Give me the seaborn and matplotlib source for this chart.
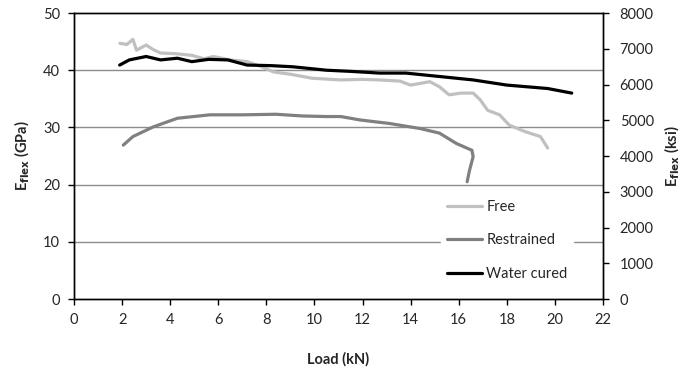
import matplotlib
matplotlib.use("Agg")
import matplotlib.pyplot as plt
import seaborn as sns
import pandas as pd

sns.set_theme(style="white")
plt.rcParams['font.family'] = ['Lato', 'DejaVu Sans']

# Data
free_load = [1.91, 2.2, 2.45, 2.6, 3.0, 3.3, 3.6, 4.2, 4.9, 5.4, 5.8, 6.5, 7.2, 7.8, 8.3, 9.0, 9.9, 11.1, 12.0, 12.7, 13.55, 14.0, 14.8, 15.2, 15.6, 16.1, 16.6, 16.9, 17.2, 17.7, 18.1, 18.8, 19.4, 19.7]
free_E = [44.7, 44.5, 45.4, 43.5, 44.4, 43.6, 43.0, 42.9, 42.6, 42.0, 42.4, 41.8, 41.5, 40.6, 39.7, 39.3, 38.6, 38.3, 38.4, 38.3, 38.1, 37.4, 38.0, 37.1, 35.7, 36.0, 36.0, 34.8, 33.0, 32.2, 30.4, 29.2, 28.4, 26.4]

restrained_load = [2.05, 2.45, 3.3, 4.3, 5.65, 7.0, 8.4, 9.5, 10.5, 11.1, 11.9, 13.1, 14.4, 15.2, 15.9, 16.55, 16.6, 16.45, 16.35]
restrained_E = [26.9, 28.4, 30.1, 31.6, 32.2, 32.2, 32.3, 32.0, 31.9, 31.9, 31.3, 30.7, 29.8, 29.0, 27.2, 26.0, 24.9, 22.5, 20.5]

water_load = [1.9, 2.3, 3.0, 3.6, 4.3, 4.9, 5.6, 6.4, 7.2, 8.2, 9.1, 10.5, 11.5, 12.7, 13.8, 15.2, 16.6, 18.0, 19.7, 20.7]
water_E = [40.9, 41.8, 42.4, 41.8, 42.1, 41.5, 41.9, 41.8, 40.9, 40.8, 40.6, 40.0, 39.8, 39.5, 39.5, 38.9, 38.3, 37.4, 36.8, 36.0]

series_names = ["Free", "Restrained", "Water cured"]
colors = ["#c0c0c0", "#808080", "#000000"]

x_ticks = list(range(0, 23, 2))
y_ticks = list(range(0, 51, 10))
y2_ticks = list(range(0, 8001, 1000))

rows = []
for name, xs, ys in zip(series_names, [free_load, restrained_load, water_load],
                        [free_E, restrained_E, water_E]):
    for i, (x, y) in enumerate(zip(xs, ys)):
        rows.append({"Load": x, "E": y, "Series": name, "order": i})
df = pd.DataFrame(rows)

fig = plt.figure(figsize=(6.87, 3.74), dpi=100)
ax = fig.add_axes([0.1077, 0.2005, 0.77, 0.7647])

for y in y_ticks[1:-1]:
    ax.axhline(y, color="#8c8c8c", lw=1.0, zorder=0)

sns.lineplot(data=df, x="Load", y="E", hue="Series", palette=colors,
             hue_order=series_names, sort=False, estimator=None,
             linewidth=2.3, ax=ax, legend=True)

ax.set_xlim(0, 22)
ax.set_ylim(0, 50)
ax.set_xticks(x_ticks)
ax.set_yticks(y_ticks)
ax.tick_params(axis="both", direction="out", length=4, width=1, color="black",
               labelsize=10.5, pad=6)
ax.tick_params(axis="x", bottom=True)
ax.tick_params(axis="y", left=True)
for s in ax.spines.values():
    s.set_color("black")
    s.set_linewidth(1.0)
ax.set_xlabel("Load (kN)", fontsize=10.5, fontweight="bold", labelpad=18)
ax.set_ylabel(r"E$_{\mathbf{flex}}$ (GPa)", fontsize=10.5, fontweight="bold", labelpad=8)

ax2 = ax.twinx()
ax2.set_ylim(0, 8000)
ax2.set_yticks(y2_ticks)
ax2.tick_params(axis="y", direction="out", length=4, width=1, color="black",
                labelsize=10.5, pad=8, right=True)
ax2.set_ylabel(r"E$_{\mathbf{flex}}$ (ksi)", fontsize=10.5, fontweight="bold", labelpad=6)
for s in ax2.spines.values():
    s.set_color("black")
    s.set_linewidth(1.0)

handles, labels = ax.get_legend_handles_labels()
ax.legend(handles, labels, loc="center left", bbox_to_anchor=(0.68, 0.205),
          frameon=True, facecolor="white", edgecolor="white", framealpha=1,
          fontsize=10.5, handlelength=2.4, handletextpad=0.3, labelspacing=1.35,
          borderpad=0.4)

fig.savefig("out.png", dpi=100)
